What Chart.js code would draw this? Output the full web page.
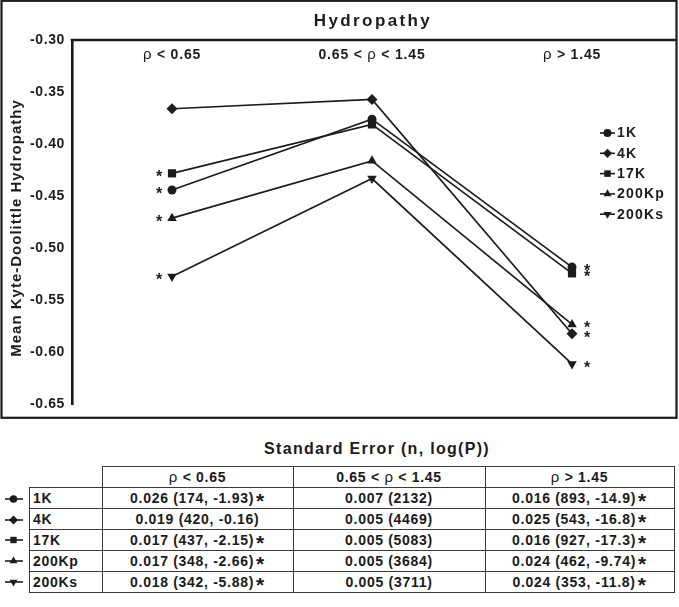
<!DOCTYPE html>
<html>
<head>
<meta charset="utf-8">
<script src="https://cdn.jsdelivr.net/npm/chart.js@4.4.1/dist/chart.umd.min.js"></script>
<style>
html,body{margin:0;padding:0;background:#fff;overflow:hidden;}
body{width:679px;height:607px;position:relative;font-family:"Liberation Sans",Arial,sans-serif;color:#1a1a1a;}
#wrap{position:absolute;left:0;top:0;width:679px;height:420px;}
#tblTitle{position:absolute;left:177px;width:400px;top:439px;text-align:center;font-weight:bold;font-size:16px;letter-spacing:1.3px;line-height:20px;}
#se{position:absolute;left:29px;top:466px;border-collapse:collapse;font-weight:bold;font-size:14px;letter-spacing:0.7px;}
#se td{border:1px solid #3a3a3a;height:20px;padding:0;line-height:20px;white-space:nowrap;text-align:center;}
#se td.lab{text-align:left;padding-left:3px;}
#se td.blank{border-top:none;border-left:none;}
#se .rho{font-weight:normal;font-size:15px;}
#se .star{font-size:21px;line-height:10px;position:relative;top:5px;margin-left:2px;}
.mk{position:absolute;left:2px;width:24px;height:12px;}
</style>
</head>
<body>
<div id="wrap"><canvas id="c" width="679" height="420"></canvas></div>
<div id="tblTitle">Standard Error (n, log(P))</div>
<table id="se"></table>
<script>
// ---------- data ----------
const categories = ['ρ < 0.65', '0.65 < ρ < 1.45', 'ρ > 1.45'];
const seriesNames = ['1K', '4K', '17K', '200Kp', '200Ks'];
const hyd1K    = [-0.444, -0.376, -0.518];
const hyd4K    = [-0.366, -0.357, -0.582];
const hyd17K   = [-0.428, -0.381, -0.524];
const hyd200Kp = [-0.471, -0.416, -0.573];
const hyd200Ks = [-0.527, -0.433, -0.611];
const sig1K    = [true, false, true];
const sig4K    = [false, false, true];
const sig17K   = [true, false, true];
const sig200Kp = [true, false, true];
const sig200Ks = [true, false, true];
const yTicks = [-0.30, -0.35, -0.40, -0.45, -0.50, -0.55, -0.60, -0.65];
// standard error table
const se1K    = [0.026, 0.007, 0.016]; const n1K    = [174, 2132, 893]; const logP1K    = [-1.93, null, -14.9];
const se4K    = [0.019, 0.005, 0.025]; const n4K    = [420, 4469, 543]; const logP4K    = [-0.16, null, -16.8];
const se17K   = [0.017, 0.005, 0.016]; const n17K   = [437, 5083, 927]; const logP17K   = [-2.15, null, -17.3];
const se200Kp = [0.017, 0.005, 0.024]; const n200Kp = [348, 3684, 462]; const logP200Kp = [-2.66, null, -9.74];
const se200Ks = [0.018, 0.005, 0.024]; const n200Ks = [342, 3711, 353]; const logP200Ks = [-5.88, null, -11.8];

// ---------- styles ----------
const INK = '#1c1c1c';
const FONT = '"Liberation Sans", Arial, sans-serif';
const pointStyles = ['circle', 'rectRot', 'rect', 'triangle', 'triangle'];
const pointRots = [0, 0, 0, 0, 180];
const pointRadii = [4.5, 5.5, 5.8, 5.5, 5.5];

const seriesValues = [hyd1K, hyd4K, hyd17K, hyd200Kp, hyd200Ks];
const seriesSig = [sig1K, sig4K, sig17K, sig200Kp, sig200Ks];
const tblSE = [se1K, se4K, se17K, se200Kp, se200Ks];
const tblN = [n1K, n4K, n17K, n200Kp, n200Ks];
const tblLogP = [logP1K, logP4K, logP17K, logP200Kp, logP200Ks];

function marker(ctx, i, r, x, y) {
  ctx.save();
  ctx.fillStyle = INK; ctx.strokeStyle = INK;
  Chart.helpers.drawPoint(ctx, {pointStyle: pointStyles[i], rotation: pointRots[i], radius: r, borderWidth: 0}, x, y);
  ctx.restore();
}

function drawMixed(ctx, text, cx, cy, size, spacing) {
  const parts = text.split(/(ρ)/).filter(s => s.length);
  const fonts = parts.map(p => p === 'ρ' ? `${size + 1}px ${FONT}` : `bold ${size}px ${FONT}`);
  ctx.letterSpacing = spacing + 'px';
  let total = 0;
  const widths = parts.map((p, i) => { ctx.font = fonts[i]; const w = ctx.measureText(p).width; total += w; return w; });
  let x = cx - total / 2;
  ctx.textAlign = 'left'; ctx.textBaseline = 'middle';
  parts.forEach((p, i) => { ctx.font = fonts[i]; ctx.fillText(p, x, cy); x += widths[i]; });
}

const deco = {
  id: 'deco',
  beforeDraw(chart) {
    const ctx = chart.ctx;
    ctx.save(); ctx.fillStyle = '#fff'; ctx.fillRect(0, 0, chart.width, chart.height); ctx.restore();
    ctx.letterSpacing = '0.6px';
  },
  afterDatasetsDraw(chart) {
    const ctx = chart.ctx, xs = chart.scales.x, ys = chart.scales.y;
    ctx.save();
    ctx.fillStyle = INK;
    // category labels
    categories.forEach((c, i) => drawMixed(ctx, c, xs.getPixelForValue(i), 55, 14, 0.8));
    // significance asterisks
    ctx.font = `bold 16px ${FONT}`;
    ctx.letterSpacing = '0px';
    ctx.textAlign = 'center'; ctx.textBaseline = 'alphabetic';
    seriesValues.forEach((vals, s) => {
      vals.forEach((v, i) => {
        if (!seriesSig[s][i]) return;
        const px = xs.getPixelForValue(i), py = ys.getPixelForValue(v);
        const dx = i === 0 ? -13 : 15;
        ctx.fillText('*', px + dx, py + 9);
      });
    });
    ctx.restore();
  },
  afterDraw(chart) {
    const ctx = chart.ctx, a = chart.chartArea;
    ctx.save();
    ctx.strokeStyle = INK;
    // outer frame
    ctx.lineWidth = 2.2;
    ctx.strokeRect(1.5, 0.8, 675, 417);
    // top rule of plot
    ctx.lineWidth = 2.6;
    ctx.beginPath(); ctx.moveTo(a.left - 1.3, a.top); ctx.lineTo(676.5, a.top); ctx.stroke();
    // title
    ctx.fillStyle = INK;
    ctx.font = `bold 17px ${FONT}`;
    ctx.letterSpacing = '2.4px';
    ctx.textAlign = 'center'; ctx.textBaseline = 'middle';
    ctx.fillText('Hydropathy', (a.left + a.right) / 2 + 1, 21);
    // y title
    ctx.save();
    ctx.translate(17, 228); ctx.rotate(-Math.PI / 2);
    ctx.font = `bold 15px ${FONT}`;
    ctx.letterSpacing = '1px';
    ctx.fillText('Mean Kyte-Doolittle Hydropathy', 0, 0);
    ctx.restore();
    // legend
    ctx.font = `bold 14px ${FONT}`;
    ctx.letterSpacing = '1.2px';
    ctx.textAlign = 'left'; ctx.textBaseline = 'middle';
    ctx.lineWidth = 1.6;
    seriesNames.forEach((name, i) => {
      const y = 133 + i * 20.3;
      ctx.beginPath(); ctx.moveTo(600, y); ctx.lineTo(615, y); ctx.stroke();
      marker(ctx, i, i === 0 ? 4 : 4.6, 607.5, y);
      ctx.fillText(name, 617, y + 0.5);
    });
    ctx.restore();
  }
};

new Chart(document.getElementById('c'), {
  type: 'line',
  data: {
    labels: categories,
    datasets: seriesNames.map((name, i) => ({
      label: name,
      data: seriesValues[i],
      borderColor: INK,
      backgroundColor: INK,
      borderWidth: 1.7,
      tension: 0,
      pointStyle: pointStyles[i],
      pointRotation: pointRots[i],
      pointRadius: pointRadii[i],
      pointHoverRadius: pointRadii[i],
      pointBackgroundColor: INK,
      pointBorderColor: INK,
      pointBorderWidth: 0,
      clip: false
    }))
  },
  options: {
    responsive: false,
    animation: false,
    events: [],
    layout: {padding: {top: 40, right: 7, bottom: 13, left: 0}},
    plugins: {legend: {display: false}, tooltip: {enabled: false}, title: {display: false}},
    scales: {
      x: {type: 'category', display: false, offset: true},
      y: {
        min: -0.65, max: -0.30,
        afterBuildTicks: s => { s.ticks = yTicks.map(v => ({value: v})); },
        afterFit: s => { s.width = 72; },
        grid: {display: false, drawTicks: false},
        border: {display: true, color: INK, width: 2.6},
        ticks: {
          padding: 7,
          color: INK,
          font: {family: FONT, size: 14, weight: 'bold'},
          callback: v => Number(v).toFixed(2)
        }
      }
    }
  },
  plugins: [deco]
});

// ---------- table ----------
const tbl = document.getElementById('se');
function rhoHtml(t) { return t.replace(/ρ/g, '<span class="rho">ρ</span>'); }
let html = '<tr style="height:21px"><td class="blank" style="width:72px"></td>';
const colW = [190, 191, 188];
categories.forEach((c, i) => { html += `<td style="width:${colW[i]}px">${rhoHtml(c)}</td>`; });
html += '</tr>';
seriesNames.forEach((name, s) => {
  html += `<tr style="height:21px"><td class="lab">${name}</td>`;
  categories.forEach((c, i) => {
    const lp = tblLogP[s][i];
    let txt = tblSE[s][i].toFixed(3) + ' (' + tblN[s][i] + (lp === null ? '' : ', ' + String(lp)) + ')';
    if (seriesSig[s][i]) txt += '<span class="star">*</span>';
    html += `<td>${txt}</td>`;
  });
  html += '</tr>';
});
tbl.innerHTML = html;

// row markers
seriesNames.forEach((name, s) => {
  const cv = document.createElement('canvas');
  cv.width = 24; cv.height = 12; cv.className = 'mk';
  cv.style.top = (499 + s * 20.7 - 6) + 'px';
  document.body.appendChild(cv);
  const ctx = cv.getContext('2d');
  ctx.strokeStyle = INK; ctx.lineWidth = 1.6;
  ctx.beginPath(); ctx.moveTo(3, 6); ctx.lineTo(21, 6); ctx.stroke();
  marker(ctx, s, s === 0 ? 3.8 : 4.5, 11.5, 6);
});
</script>
</body>
</html>
